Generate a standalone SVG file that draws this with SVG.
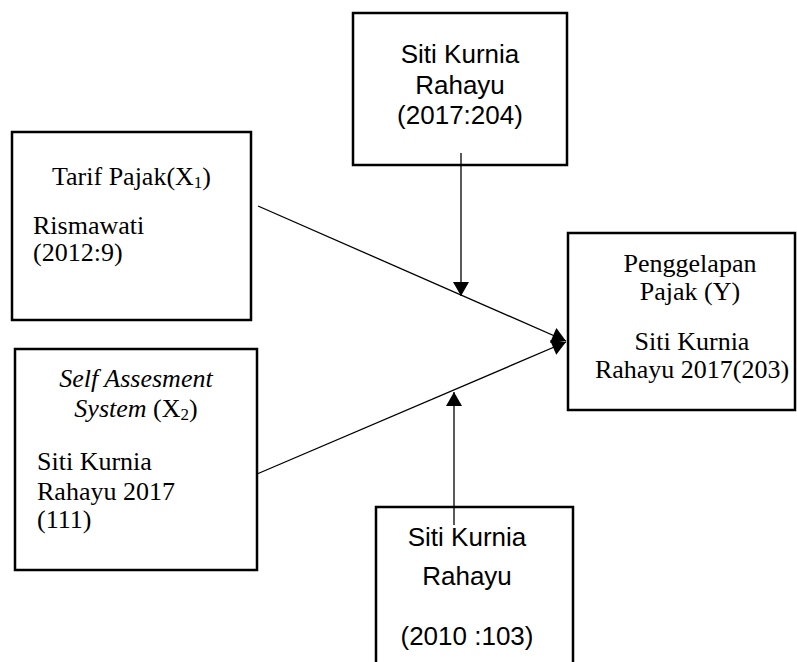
<svg xmlns="http://www.w3.org/2000/svg" width="797" height="662" viewBox="0 0 797 662">
<style>
.box{fill:#fff;stroke:#000;stroke-width:2.5}
.serif{font-family:"Liberation Serif","Times New Roman",serif;font-size:26px;fill:#000}
.sans{font-family:"Liberation Sans",Arial,sans-serif;font-size:26px;fill:#000}
.c{text-anchor:middle}
.conn{stroke:#000;stroke-width:1.3;fill:none}
</style>
<defs>
<marker id="ah" markerUnits="userSpaceOnUse" markerWidth="16" markerHeight="16" viewBox="0 0 14 16" refX="14" refY="8" orient="auto">
<path d="M0,0 L14,8 L0,16 Z" fill="#000"/>
</marker>
</defs>
<rect width="797" height="662" fill="#fff"/>
<g id="node-top">
<rect class="box" x="353" y="13" width="214" height="152"/>
<text class="sans c" x="460" y="63">Siti Kurnia</text>
<text class="sans c" x="460" y="94">Rahayu</text>
<text class="sans c" x="460" y="124">(2017:204)</text>
</g>
<g id="node-tarif">
<rect class="box" x="12" y="132" width="239" height="188"/>
<text class="serif" x="52" y="185">Tarif Pajak(X<tspan font-size="17" dy="3">1</tspan><tspan dy="-3">)</tspan></text>
<text class="serif" x="33" y="234">Rismawati</text>
<text class="serif" x="33" y="261">(2012:9)</text>
</g>
<g id="node-self">
<rect class="box" x="15" y="349" width="242" height="221"/>
<text class="serif c" x="136" y="387" font-style="italic">Self Assesment</text>
<text class="serif c" x="136" y="417"><tspan font-style="italic">System</tspan> (X<tspan font-size="17" dy="3">2</tspan><tspan dy="-3">)</tspan></text>
<text class="serif" x="37" y="470">Siti Kurnia</text>
<text class="serif" x="37" y="500">Rahayu 2017</text>
<text class="serif" x="37" y="528">(111)</text>
</g>
<g id="node-y">
<rect class="box" x="568" y="233" width="227" height="177"/>
<text class="serif c" x="690" y="272">Penggelapan</text>
<text class="serif c" x="690" y="300">Pajak (Y)</text>
<text class="serif c" x="692" y="350">Siti Kurnia</text>
<text class="serif c" x="692" y="378">Rahayu 2017(203)</text>
</g>
<g id="node-bottom">
<rect class="box" x="376" y="507" width="197" height="170"/>
<text class="sans c" x="467" y="546">Siti Kurnia</text>
<text class="sans c" x="467" y="585">Rahayu</text>
<text class="sans c" x="467" y="645">(2010 :103)</text>
</g>
<g id="connectors">
<line class="conn" x1="258" y1="206" x2="566" y2="341" marker-end="url(#ah)"/>
<line class="conn" x1="257" y1="474" x2="566" y2="342" marker-end="url(#ah)"/>
<line class="conn" x1="461" y1="153" x2="461" y2="296" marker-end="url(#ah)"/>
<line class="conn" x1="454" y1="525" x2="454" y2="392" marker-end="url(#ah)"/>
</g>
</svg>
